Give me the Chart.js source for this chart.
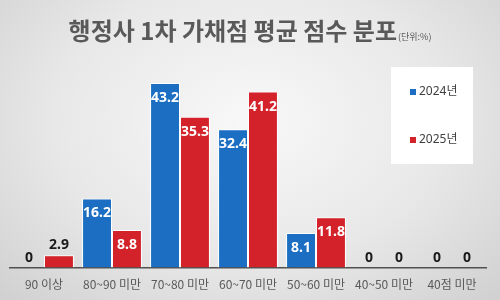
<!DOCTYPE html>
<html>
<head>
<meta charset="utf-8">
<script src="https://cdn.jsdelivr.net/npm/chart.js@4"></script>
<style>
  html, body { margin: 0; padding: 0; }
  #wrap {
    position: relative; width: 500px; height: 300px; overflow: hidden;
    background: radial-gradient(ellipse at 50% 40%, #f8f8f8 0%, #e8e8e8 55%, #d0d0d0 100%);
    font-family: 'Noto Sans CJK KR', 'Noto Sans', sans-serif;
  }
  #title {
    position: absolute; left: 0; top: 12px; width: 500px; text-align: center;
    color: #595959; font-weight: bold; font-size: 24px; white-space: nowrap;
  }
  #title small { font-size: 9px; font-weight: normal; margin-left: 1px; }
  canvas { position: absolute; left: 0; top: 0; }
</style>
</head>
<body>
<div id="wrap">
  <canvas id="myChart" width="500" height="300"></canvas>
  <div id="title">행정사 1차 가채점 평균 점수 분포<small>(단위:%)</small></div>
</div>
<script>
// data
const categories = ['90 이상', '80~90 미만', '70~80 미만', '60~70 미만', '50~60 미만', '40~50 미만', '40점 미만'];
const seriesNames = ['2024년', '2025년'];
const values2024 = [0, 16.2, 43.2, 32.4, 8.1, 0, 0];
const values2025 = [2.9, 8.8, 35.3, 41.2, 11.8, 0, 0];

const blue = '#1b6ec2';
const red = '#d3222a';
const labelFont = "bold 14px 'Noto Sans', 'Noto Sans CJK KR', sans-serif";

// value labels on the bars
const barLabels = {
  id: 'barLabels',
  afterDatasetsDraw(chart) {
    const ctx = chart.ctx;
    ctx.save();
    ctx.font = labelFont;
    ctx.textAlign = 'center';
    ctx.textBaseline = 'middle';
    chart.data.datasets.forEach((ds, i) => {
      const meta = chart.getDatasetMeta(i);
      meta.data.forEach((bar, j) => {
        const v = ds.data[j];
        const h = bar.base - bar.y;
        if (h > 25) {
          ctx.fillStyle = '#ffffff';
          ctx.fillText(String(v), bar.x, bar.y + 15);
        } else {
          ctx.fillStyle = '#1a1a1a';
          ctx.fillText(String(v), bar.x, bar.y - 10);
        }
      });
    });
    ctx.restore();
  }
};

// legend in a white box, upper right
const boxLegend = {
  id: 'boxLegend',
  afterDraw(chart) {
    const ctx = chart.ctx;
    ctx.save();
    ctx.fillStyle = '#ffffff';
    ctx.fillRect(391, 67, 82, 97);
    ctx.font = "12px 'Noto Sans', 'Noto Sans CJK KR', sans-serif";
    ctx.textBaseline = 'middle';
    ctx.textAlign = 'left';
    const rows = [92, 140];
    chart.data.datasets.forEach((ds, i) => {
      ctx.fillStyle = ds.backgroundColor;
      ctx.fillRect(410, rows[i] - 3, 6, 6);
      ctx.fillStyle = '#404040';
      ctx.fillText(ds.label, 419, rows[i]);
    });
    ctx.restore();
  }
};

const config = {
  type: 'bar',
  data: {
    labels: categories,
    datasets: [
      { label: seriesNames[0], data: values2024, backgroundColor: blue, borderColor: '#ffffff', borderWidth: 1 },
      { label: seriesNames[1], data: values2025, backgroundColor: red, borderColor: '#ffffff', borderWidth: 1 }
    ]
  },
  options: {
    responsive: false,
    animation: false,
    layout: { padding: { top: 54, left: 10, right: 14, bottom: 6 } },
    datasets: { bar: { categoryPercentage: 0.88, barPercentage: 1 } },
    scales: {
      x: {
        grid: { display: false },
        border: { display: true, color: '#505050', width: 1.5 },
        ticks: {
          color: '#595959', padding: 2,
          font: { size: 12, family: "'Noto Sans CJK KR', 'Noto Sans', sans-serif" }
        }
      },
      y: { display: false, min: 0, max: 50 }
    },
    plugins: {
      legend: { display: false },
      tooltip: { enabled: false }
    }
  },
  plugins: [barLabels, boxLegend]
};

const myChart = new Chart(document.getElementById('myChart'), config);
</script>
</body>
</html>
